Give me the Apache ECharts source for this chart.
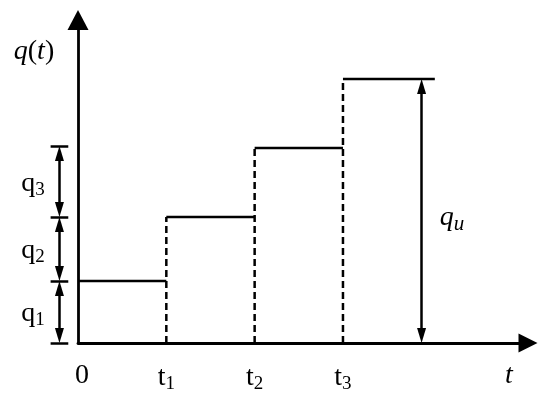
<!DOCTYPE html>
<html><head><meta charset="utf-8">
<script src="https://cdn.jsdelivr.net/npm/echarts@6/dist/echarts.min.js"></script>
<style>html,body{margin:0;padding:0;background:#fff}#c{width:550px;height:399px}</style>
</head><body><div id="c"></div>
<script>
// ---- data ----
const tickLabels = ['0', 't1', 't2', 't3'];
const tickTimes = [0, 1, 2, 3];
const stepStarts = [0, 1, 2, 3];
const stepEnds = [1, 2, 3, 4.04];
const stepLevels = [6.2, 12.6, 19.5, 26.4];
const incLabels = ['q1', 'q2', 'q3'];
const incBounds = [0, 6.2, 12.6, 19.7];
const incX = -0.21;
const quX = 3.89;
const quRange = [0, 26.4];
const xMax = 5.095, yMax = 32.3, xLeftMin = -0.43;

const FONT = '"Liberation Serif","Times New Roman",serif';
const black = '#000';
const HEAD = 0.75; // half arrow-head length in y units (head is centred on its end point)
const chart = echarts.init(document.getElementById('c'), null, {renderer: 'canvas'});

const series = [];
// solid horizontal steps
for (let i = 0; i < stepLevels.length; i++) {
  series.push({type: 'line', symbol: 'none', silent: true, clip: false,
    lineStyle: {color: black, width: 2.5},
    data: [[stepStarts[i], stepLevels[i]], [stepEnds[i], stepLevels[i]]]});
}
// dashed verticals at switching times
for (let i = 1; i < stepLevels.length; i++) {
  series.push({type: 'line', symbol: 'none', silent: true, clip: false,
    lineStyle: {color: black, width: 2.5, type: [7, 4]},
    data: [[stepStarts[i], 0], [stepStarts[i], stepLevels[i]]]});
}
const mlBase = {silent: true, symbol: ['triangle', 'triangle'], symbolSize: [9, 15],
  lineStyle: {color: black, width: 2.5, type: 'solid'}, label: {show: false}, animation: false};
// qu arrow (main grid)
series.push({type: 'line', data: [], silent: true,
  markLine: Object.assign({}, mlBase, {data: [[{coord: [quX, quRange[0] + HEAD]}, {coord: [quX, quRange[1] - HEAD]}]]})});
// increment arrows on the left (side grid)
const arrowData = [];
for (let i = 0; i < incLabels.length; i++) {
  arrowData.push([{coord: [incX, incBounds[i] + HEAD]}, {coord: [incX, incBounds[i + 1] - HEAD]}]);
}
series.push({type: 'line', data: [], silent: true, xAxisIndex: 1, yAxisIndex: 1,
  markLine: Object.assign({}, mlBase, {data: arrowData})});
const tickData = incBounds.map(v => [{coord: [incX - 0.1, v]}, {coord: [incX + 0.1, v]}]);
series.push({type: 'line', data: [], silent: true, xAxisIndex: 1, yAxisIndex: 1,
  markLine: Object.assign({}, mlBase, {symbol: ['none', 'none'], data: tickData})});

const rich = {
  n: {fontFamily: FONT, fontSize: 28, color: black},
  i: {fontFamily: FONT, fontSize: 28, color: black, fontStyle: 'italic'},
  s: {fontFamily: FONT, fontSize: 19, color: black, padding: [13, 0, 0, 0]},
  si: {fontFamily: FONT, fontSize: 21, color: black, fontStyle: 'italic', padding: [13, 0, 0, 0]},
  z: {fontFamily: FONT, fontSize: 28, color: black, padding: [0, 0, 0, 8]}
};
function sub(lbl) {
  if (lbl === '0') return '{z|0}';
  return '{n|' + lbl[0] + '}{s|' + lbl.slice(1) + '}';
}
const hidden = {show: false};

chart.setOption({
  animation: false,
  backgroundColor: '#fff',
  grid: [{left: 78, right: 22, top: 20, bottom: 56},
         {left: 40, width: 38, top: 20, bottom: 56}],
  xAxis: [{type: 'value', min: 0, max: xMax, interval: 1,
    axisLine: {lineStyle: {color: black, width: 2.8}, symbol: ['none', 'triangle'], symbolSize: [19, 19]},
    axisTick: hidden, splitLine: hidden,
    axisLabel: {margin: 19, rich: rich, formatter: v => {
      const k = tickTimes.indexOf(v); return k >= 0 ? sub(tickLabels[k]) : ''; }}},
    {type: 'value', gridIndex: 1, min: xLeftMin, max: 0, show: false}],
  yAxis: [{type: 'value', min: 0, max: yMax,
    axisLine: {lineStyle: {color: black, width: 2.8}, symbol: ['none', 'triangle'], symbolSize: [21, 20]},
    axisTick: hidden, splitLine: hidden, axisLabel: hidden},
    {type: 'value', gridIndex: 1, min: 0, max: yMax, show: false}],
  series: series
});

const P = (x, y) => chart.convertToPixel({gridIndex: 0}, [x, y]);
const texts = [];
texts.push({type: 'text', x: 34, y: 52, style: {text: '{i|q}{n|(}{i|t}{n|)}', rich: rich, align: 'center', verticalAlign: 'middle'}});
for (let i = 0; i < incLabels.length; i++) {
  const p = P(0, (incBounds[i] + incBounds[i + 1]) / 2);
  texts.push({type: 'text', x: 33, y: p[1] + 2, style: {text: sub(incLabels[i]), rich: rich, align: 'center', verticalAlign: 'middle'}});
}
texts.push({type: 'text', x: 452, y: 218, style: {text: '{i|q}{si|u}', rich: rich, align: 'center', verticalAlign: 'middle'}});
texts.push({type: 'text', x: 509, y: 376, style: {text: '{i|t}', rich: rich, align: 'center', verticalAlign: 'middle'}});
chart.setOption({graphic: texts});
</script></body></html>
